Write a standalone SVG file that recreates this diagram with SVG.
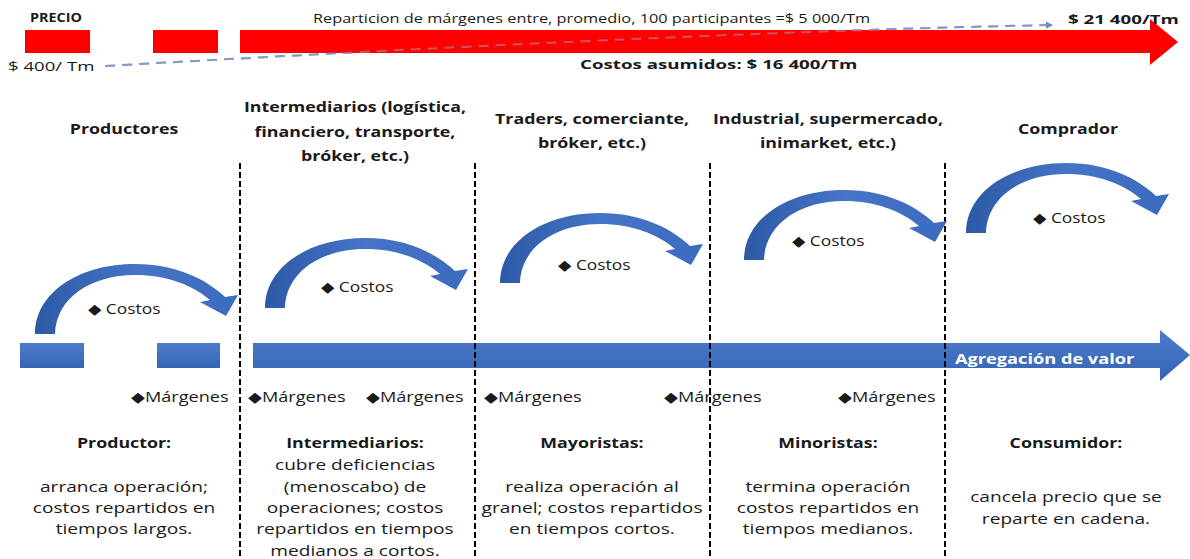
<svg xmlns="http://www.w3.org/2000/svg" width="1190" height="559" viewBox="0 0 1190 559">
  <style>
    text { font-family: "Open Sans", "DejaVu Sans", sans-serif; fill: #1a1a1a; transform-box: fill-box; }
    .hd { font-weight: bold; font-size: 14px; text-anchor: middle; transform-origin: center; transform: scaleX(1.27); }
    .tx { font-size: 14.5px; text-anchor: middle; transform-origin: center; transform: scaleX(1.32); }
    .mg { font-size: 14.5px; transform-origin: left; transform: scaleX(1.25); }
    .cs { font-size: 14.5px; transform-origin: left; transform: scaleX(1.2); }
    .top { font-size: 12px; }
    .topb { font-size: 13px; font-weight: bold; transform-origin: left; transform: scaleX(1.44); }
    .div { stroke: #000; stroke-width: 2; stroke-dasharray: 6 3; fill: none; }
    .blue { fill: url(#barBlue); }
    .red { fill: #ff0000; }
    .curve { fill: url(#curveBlue); }
  </style>
  <defs>
    <linearGradient id="curveBlue" x1="0" y1="0" x2="1" y2="0">
      <stop offset="0" stop-color="#2c5aa6"/>
      <stop offset="0.5" stop-color="#4674c6"/>
      <stop offset="1" stop-color="#3b6bbf"/>
    </linearGradient>
    <linearGradient id="barBlue" x1="0" y1="0" x2="0" y2="1">
      <stop offset="0" stop-color="#4d7dcd"/>
      <stop offset="1" stop-color="#3563b2"/>
    </linearGradient>
    <!-- curved arrow band with head, drawn in a 203x70 box -->
    <path id="curvedArrow" class="curve" d="M0,70 C0,28 45,0 100,0 C142,0 172,16 190,33 L203,31 L191,52 L165,38 L175,36 C157,21 132,11 100,11 C56,11 21,34 20,70 Z"/>
    <marker id="dashHead" markerWidth="8" markerHeight="8" refX="6" refY="4" orient="auto" markerUnits="userSpaceOnUse">
      <path d="M0,0.5 L7,4 L0,7.5 Z" fill="#5b7fc4"/>
    </marker>
  </defs>

  <!-- price flow and value-added flow, plus stage dividers -->
  <g id="connectors">
    <path d="M105,66 Q700,32 1052,25" stroke="#6a8acb" stroke-width="2" stroke-dasharray="10 7" fill="none" marker-end="url(#dashHead)"/>
    <rect class="red" x="25" y="30" width="65" height="23"/>
    <rect class="red" x="153" y="30" width="65" height="23"/>
    <polygon class="red" points="240,30 1150,30 1150,19 1178,42 1150,65 1150,53 240,53"/>
    <path d="M105,66 Q700,32 1052,25" stroke="#9aa6c8" stroke-opacity="0.5" stroke-width="2" stroke-dasharray="10 7" fill="none"/>

    <rect class="blue" x="20" y="343" width="64" height="25"/>
    <rect class="blue" x="157" y="343" width="63" height="25"/>
    <polygon class="blue" points="253,343 1160,343 1160,330 1190,355 1160,381 1160,368 253,368"/>

    <line class="div" x1="240" y1="163" x2="240" y2="559"/>
    <line class="div" x1="475" y1="163" x2="475" y2="559"/>
    <line class="div" x1="710" y1="163" x2="710" y2="559"/>
    <line class="div" x1="945" y1="163" x2="945" y2="559"/>
  </g>

  <!-- price labels -->
  <g id="price">
    <text x="30" y="22" style="font-weight:bold;font-size:12px;transform-origin:left;transform:scaleX(1.2)">PRECIO</text>
    <text class="top" x="313" y="23" textLength="557" lengthAdjust="spacingAndGlyphs">Reparticion de márgenes entre, promedio, 100 participantes =$ 5 000/Tm</text>
    <text class="topb" x="1068" y="24">$ 21 400/Tm</text>
    <text x="8" y="71" style="font-size:13px;transform-origin:left;transform:scaleX(1.43)">$ 400/ Tm</text>
    <text class="topb" x="580" y="69">Costos asumidos: $ 16 400/Tm</text>
    <text x="955" y="364" style="font-weight:bold;font-size:14px;fill:#ffffff;transform-origin:left;transform:scaleX(1.3)">Agregación de valor</text>
  </g>

  <g id="productores">
    <text class="hd" x="124" y="134">Productores</text>
    <use href="#curvedArrow" transform="translate(35,264)"/>
    <text class="cs" x="88" y="314">◆ Costos</text>
    <text class="mg" x="131" y="402">◆Márgenes</text>
    <text class="hd" x="124" y="448">Productor:</text>
    <text class="tx" x="124" y="492">arranca operación;</text>
    <text class="tx" x="124" y="513">costos repartidos en</text>
    <text class="tx" x="124" y="534">tiempos largos.</text>
  </g>

  <g id="intermediarios">
    <text class="hd" x="355" y="112">Intermediarios (logística,</text>
    <text class="hd" x="355" y="137">financiero, transporte,</text>
    <text class="hd" x="355" y="161">bróker, etc.)</text>
    <use href="#curvedArrow" transform="translate(265,238)"/>
    <text class="cs" x="321" y="292">◆ Costos</text>
    <text class="mg" x="248" y="402">◆Márgenes</text>
    <text class="mg" x="366" y="402">◆Márgenes</text>
    <text class="hd" x="355" y="448">Intermediarios:</text>
    <text class="tx" x="355" y="470">cubre deficiencias</text>
    <text class="tx" x="355" y="492">(menoscabo) de</text>
    <text class="tx" x="355" y="513">operaciones; costos</text>
    <text class="tx" x="355" y="534">repartidos en tiempos</text>
    <text class="tx" x="355" y="556">medianos a cortos.</text>
  </g>

  <g id="mayoristas">
    <text class="hd" x="592" y="124">Traders, comerciante,</text>
    <text class="hd" x="592" y="148">bróker, etc.)</text>
    <use href="#curvedArrow" transform="translate(500,213)"/>
    <text class="cs" x="558" y="270">◆ Costos</text>
    <text class="mg" x="484" y="402">◆Márgenes</text>
    <text class="hd" x="592" y="448">Mayoristas:</text>
    <text class="tx" x="592" y="492">realiza operación al</text>
    <text class="tx" x="592" y="513">granel; costos repartidos</text>
    <text class="tx" x="592" y="534">en tiempos cortos.</text>
  </g>

  <g id="minoristas">
    <text class="hd" x="828" y="124">Industrial, supermercado,</text>
    <text class="hd" x="828" y="148">inimarket, etc.)</text>
    <use href="#curvedArrow" transform="translate(744,190)"/>
    <text class="cs" x="792" y="246">◆ Costos</text>
    <text class="mg" x="664" y="402">◆Márgenes</text>
    <text class="mg" x="838" y="402">◆Márgenes</text>
    <text class="hd" x="828" y="448">Minoristas:</text>
    <text class="tx" x="828" y="492">termina operación</text>
    <text class="tx" x="828" y="513">costos repartidos en</text>
    <text class="tx" x="828" y="534">tiempos medianos.</text>
  </g>

  <g id="consumidor">
    <text class="hd" x="1068" y="134">Comprador</text>
    <use href="#curvedArrow" transform="translate(966,163)"/>
    <text class="cs" x="1033" y="223">◆ Costos</text>
    <text class="hd" x="1066" y="448">Consumidor:</text>
    <text class="tx" x="1066" y="502">cancela precio que se</text>
    <text class="tx" x="1066" y="524">reparte en cadena.</text>
  </g>
</svg>
